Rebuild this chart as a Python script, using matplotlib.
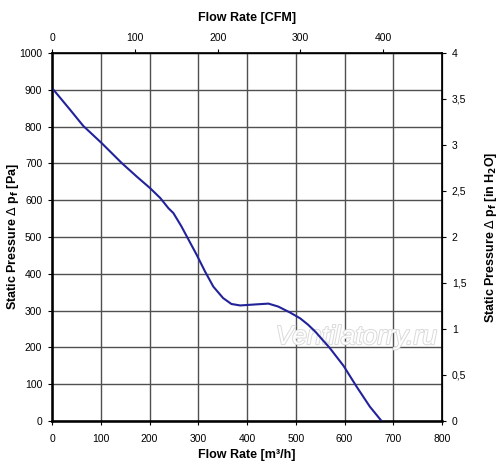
import matplotlib
matplotlib.use("Agg")
import matplotlib.pyplot as plt
from matplotlib.ticker import FuncFormatter
import matplotlib.patheffects as pe

plt.rcParams['font.family'] = ['Liberation Sans', 'DejaVu Sans']

flow_m3h = [0, 37, 64, 102, 143, 174, 201, 222, 239, 249, 265, 282, 297, 314, 331, 351, 368, 386,
            420, 444, 464, 488, 509, 525, 540, 570, 598, 625, 652, 676]
pressure_pa = [905, 846, 802, 755, 701, 664, 633, 606, 578, 565, 530, 488, 451, 406, 365, 334, 318, 314,
               317, 319, 311, 295, 279, 262, 243, 198, 150, 93, 39, 0]

x_ticks = [0, 100, 200, 300, 400, 500, 600, 700, 800]
y_ticks = [0, 100, 200, 300, 400, 500, 600, 700, 800, 900, 1000]
cfm_ticks = [0, 100, 200, 300, 400]
inh2o_ticks = [0, 0.5, 1, 1.5, 2, 2.5, 3, 3.5, 4]

M3H_PER_CFM = 1.699
PA_PER_INH2O = 250.0

fig = plt.figure(figsize=(5.0, 4.73), dpi=100)
ax = fig.add_axes([52/500, 1-421/473, 390/500, 368/473])

ax.plot(flow_m3h, pressure_pa, color='#22229a', lw=1.5, zorder=3)
ax.set_xlim(0, 800)
ax.set_ylim(0, 1000)
ax.set_xticks(x_ticks)
ax.set_yticks(y_ticks)
ax.grid(True, color='#505050', lw=1.0)
ax.tick_params(axis='y', labelsize=7.5, length=3, direction='out', pad=4)
ax.tick_params(axis='x', labelsize=7.5, length=3, direction='out', pad=6)
for s in ['left', 'bottom']:
    ax.spines[s].set_linewidth(1.8)
for s in ['top', 'right']:
    ax.spines[s].set_linewidth(1.2)
ax.set_xlabel('Flow Rate [m³/h]', fontsize=9, fontweight='bold', labelpad=4)
ax.set_ylabel(r'Static Pressure $\Delta$ p$_\mathbf{f}$ [Pa]', fontsize=9, fontweight='bold', labelpad=-1)

ax_top = ax.twiny()
ax_top.set_xlim(0, 800 / M3H_PER_CFM)
ax_top.set_xticks(cfm_ticks)
ax_top.tick_params(labelsize=7.5, length=3, direction='out', pad=4)
ax_top.set_xlabel('Flow Rate [CFM]', fontsize=9, fontweight='bold', labelpad=9)

ax_r = ax.twinx()
ax_r.set_ylim(0, 1000 / PA_PER_INH2O)
ax_r.set_yticks(inh2o_ticks)
ax_r.yaxis.set_major_formatter(FuncFormatter(lambda v, p: ('%g' % v).replace('.', ',')))
ax_r.tick_params(labelsize=7.5, length=3, direction='out', pad=4)
ax_r.set_ylabel(r'Static Pressure $\Delta$ p$_\mathbf{f}$ [in H$_\mathbf{2}$O]', fontsize=9, fontweight='bold', labelpad=12)

ax.text(0.78, 0.228, 'Ventilatorry.ru', transform=ax.transAxes, fontsize=19,
        style='italic', color='white', ha='center', va='center', zorder=2.5,
        path_effects=[pe.withStroke(linewidth=1.4, foreground='#dadada')])

fig.savefig('out.png', dpi=100, facecolor='white')
